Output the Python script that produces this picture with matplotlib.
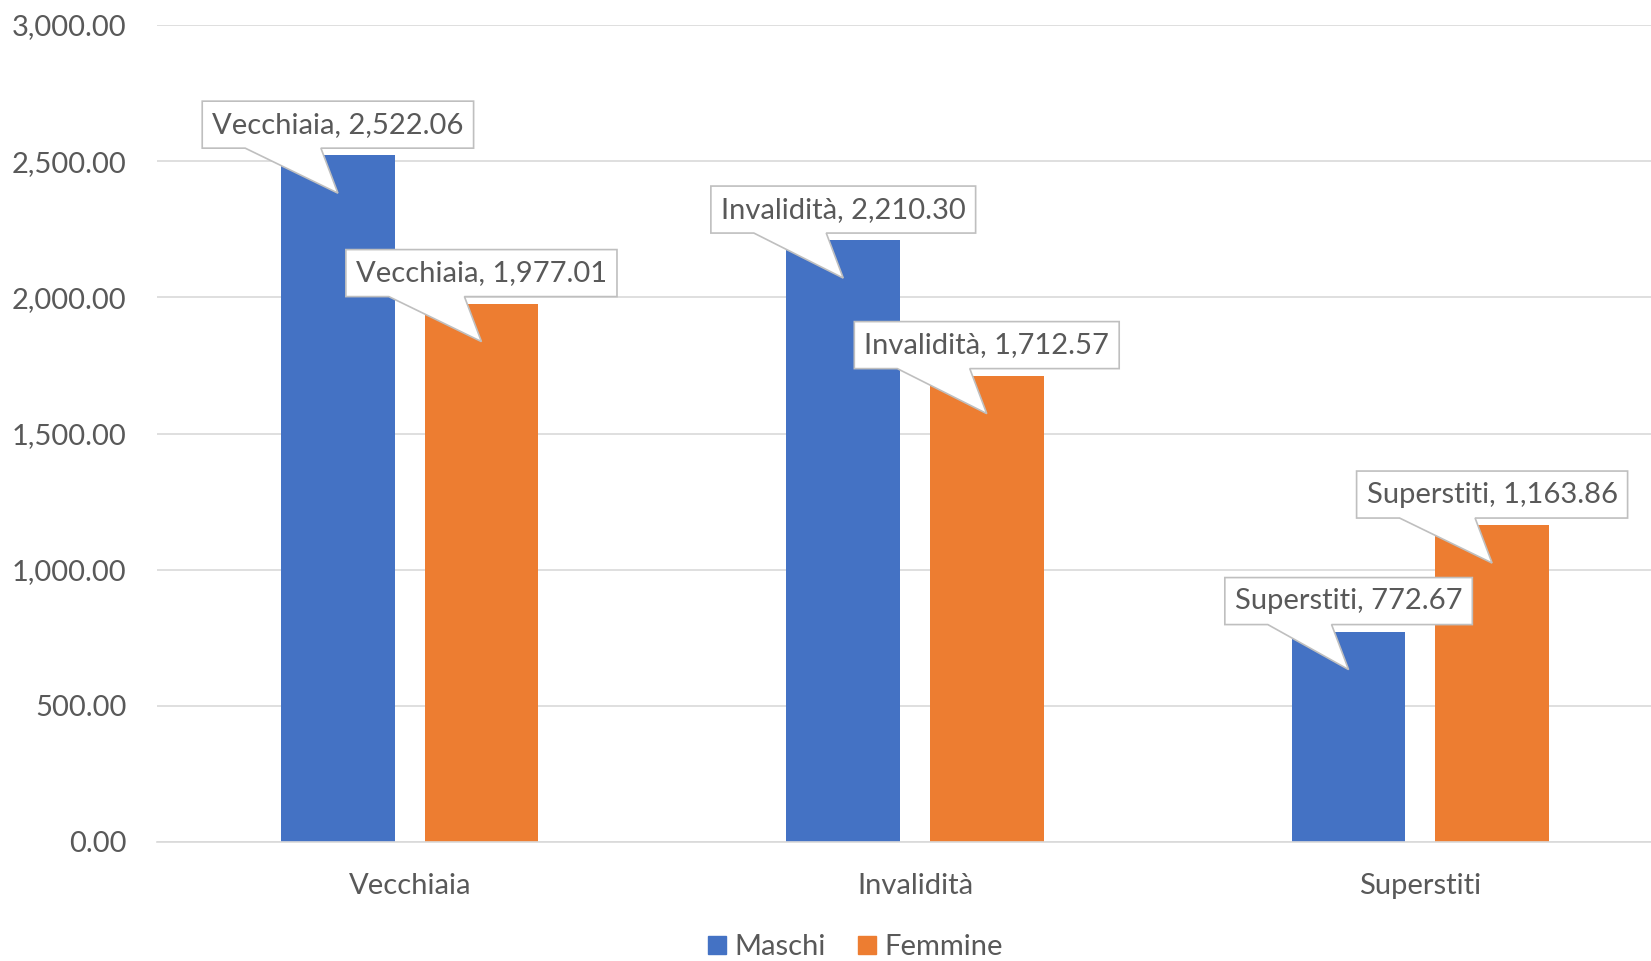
import matplotlib
matplotlib.use("Agg")
import matplotlib.pyplot as plt
from matplotlib.patches import Polygon
from matplotlib.lines import Line2D
from matplotlib.ticker import FuncFormatter

plt.rcParams['font.family'] = ['Lato', 'DejaVu Sans']

categories = ['Vecchiaia', 'Invalidità', 'Superstiti']
maschi = [2522.06, 2210.30, 772.67]
femmine = [1977.01, 1712.57, 1163.86]
series_names = ['Maschi', 'Femmine']
yticks = [0, 500, 1000, 1500, 2000, 2500, 3000]

blue = '#4472C4'
orange = '#ED7D31'
grey_txt = '#595959'
fs = 21

W, H = 1651, 961
fig = plt.figure(figsize=(W / 100, H / 100), dpi=100)
ax = fig.add_axes([157 / W, (H - 842) / H, 1 - 157 / W, (842 - 25) / H])

x = range(len(categories))
bw = 0.225
off = 0.142
ax.bar([i - off for i in x], maschi, bw, color=blue, zorder=2)
ax.bar([i + off for i in x], femmine, bw, color=orange, zorder=2)

ax.set_xlim(-0.5, 2.5 - (1673 - W) / 505.3)
ax.set_ylim(0, 3000)
ax.set_yticks(yticks)
ax.yaxis.set_major_formatter(FuncFormatter(lambda v, p: f'{v:,.2f}'))
ax.set_xticks(list(x))
ax.set_xticklabels(categories)
ax.tick_params(axis='both', length=0, labelsize=fs, labelcolor=grey_txt)
ax.tick_params(axis='y', pad=22)
ax.tick_params(axis='x', pad=22)
ax.grid(axis='y', color='#D9D9D9', linewidth=1.2, zorder=0)
for s in ['top', 'right', 'left']:
    ax.spines[s].set_visible(False)
ax.spines['bottom'].set_color('#D9D9D9')
ax.spines['bottom'].set_linewidth(1.2)

# callouts, built in pixel space from each bar's top
fig.canvas.draw()
renderer = fig.canvas.get_renderer()


def callout(xc, val, cat):
    label = f'{cat}, {val:,.2f}'
    px, py = ax.transData.transform((xc, val))
    bottom = py + 7
    top = bottom + 47
    t = fig.text(px, (bottom + top) / 2, label, transform=None, ha='center', va='center',
                 fontsize=fs, color=grey_txt, zorder=6)
    tw = t.get_window_extent(renderer).width
    left = px - tw / 2 - 10
    right = px + tw / 2 + 10
    tip = (px, py - 38)
    verts = [(left, top), (right, top), (right, bottom), (px - 17, bottom), tip,
             (left + 43, bottom), (left, bottom)]
    fig.patches.append(Polygon(verts, closed=True, transform=None, facecolor='white',
                               edgecolor='#BFBFBF', linewidth=1.2, zorder=5))


for i, cat in enumerate(categories):
    callout(i - off, maschi[i], cat)
    callout(i + off, femmine[i], cat)

handles = [Line2D([], [], marker='s', linestyle='none', markersize=13, color=c)
           for c in (blue, orange)]
fig.legend(handles, series_names, loc='center', bbox_to_anchor=(854 / W, 1 - 947 / H),
           ncol=2, frameon=False, fontsize=fs, labelcolor=grey_txt, handletextpad=0.2,
           columnspacing=1.0, handlelength=0.8)

fig.savefig('out.png', dpi=100)
